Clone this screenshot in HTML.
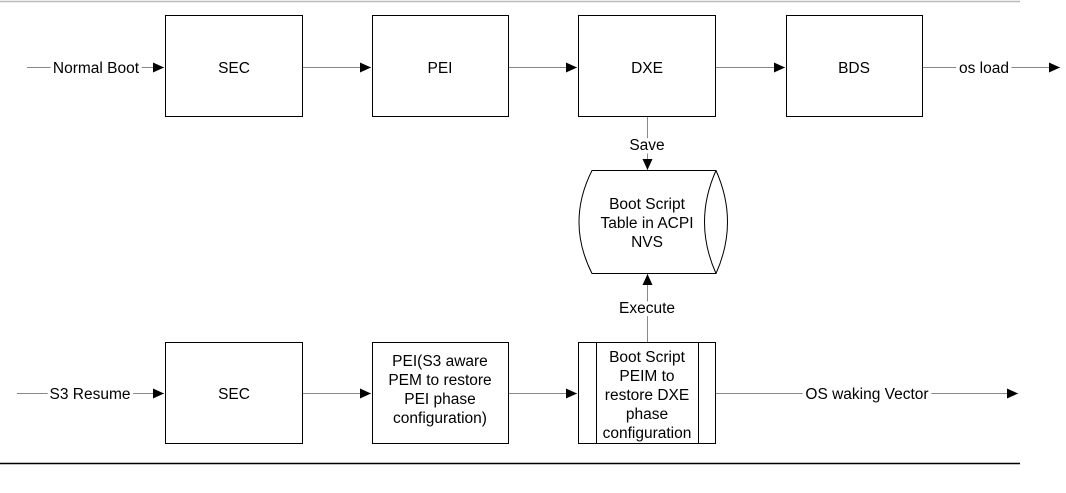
<!DOCTYPE html>
<html><head><meta charset="utf-8"><style>
html,body{margin:0;padding:0;background:#fff;}
svg{display:block;}
text{font-family:"Liberation Sans",Arial,sans-serif;font-size:15.5px;fill:#000;}
.l{paint-order:stroke;stroke:#fff;stroke-width:7px;stroke-linejoin:round;}
</style></head><body>
<svg width="1066" height="493" viewBox="0 0 1066 493" xmlns="http://www.w3.org/2000/svg">
<defs>
<marker id="a" markerWidth="12" markerHeight="10" refX="11" refY="5" orient="auto" markerUnits="userSpaceOnUse">
<path d="M0,0 L11,5 L0,10 Z" fill="#000"/></marker>
</defs>
<line x1="0" y1="1.5" x2="1020" y2="1.5" stroke="#bbb" stroke-width="1.5"/>
<line x1="0" y1="463.5" x2="1020" y2="463.5" stroke="#000" stroke-width="1.5"/>
<g stroke="#888" stroke-width="1" fill="none">
<line x1="27" y1="67.5" x2="164" y2="67.5" marker-end="url(#a)"/>
<line x1="302" y1="67.5" x2="371" y2="67.5" marker-end="url(#a)"/>
<line x1="508" y1="67.5" x2="577" y2="67.5" marker-end="url(#a)"/>
<line x1="716" y1="67.5" x2="785" y2="67.5" marker-end="url(#a)"/>
<line x1="922" y1="67.5" x2="1060" y2="67.5" marker-end="url(#a)"/>
<line x1="647.5" y1="116" x2="647.5" y2="170" marker-end="url(#a)"/>
<line x1="647.5" y1="342" x2="647.5" y2="274" marker-end="url(#a)"/>
<line x1="17" y1="393.5" x2="164" y2="393.5" marker-end="url(#a)"/>
<line x1="302" y1="393.5" x2="371" y2="393.5" marker-end="url(#a)"/>
<line x1="508" y1="393.5" x2="577" y2="393.5" marker-end="url(#a)"/>
<line x1="716" y1="393.5" x2="1018" y2="393.5" marker-end="url(#a)"/>
</g>
<g fill="#fff" stroke="#000" stroke-width="1">
<rect x="165.5" y="15.5" width="137" height="101"/>
<rect x="372.5" y="15.5" width="136" height="101"/>
<rect x="578.5" y="15.5" width="137" height="101"/>
<rect x="786.5" y="15.5" width="136" height="101"/>
<rect x="165.5" y="342.5" width="137" height="101"/>
<rect x="372.5" y="342.5" width="136" height="101"/>
<rect x="578.5" y="342.5" width="137" height="101"/>
<line x1="596.5" y1="342.5" x2="596.5" y2="443.5"/>
<line x1="698.5" y1="342.5" x2="698.5" y2="443.5"/>
<path d="M592,170.5 L716,170.5 Q739,222 716,273.5 L592,273.5 Q566,222 592,170.5 Z"/>
<path d="M716,170.5 Q693,222 716,273.5"/>
</g>
<g text-anchor="middle">
<text class="l" x="96" y="73">Normal Boot</text>
<text x="234" y="73">SEC</text>
<text x="440" y="73">PEI</text>
<text x="647" y="73">DXE</text>
<text x="854" y="73">BDS</text>
<text class="l" x="984" y="73">os load</text>
<text class="l" x="647" y="150">Save</text>
<text x="647" y="209">Boot Script</text>
<text x="647" y="228">Table in ACPI</text>
<text x="647" y="247">NVS</text>
<text class="l" x="647" y="313">Execute</text>
<text class="l" x="90" y="399">S3 Resume</text>
<text x="234" y="399">SEC</text>
<text x="440" y="366">PEI(S3 aware</text>
<text x="440" y="385">PEM to restore</text>
<text x="440" y="404">PEI phase</text>
<text x="440" y="423">configuration)</text>
<text x="647" y="362">Boot Script</text>
<text x="647" y="381">PEIM to</text>
<text x="647" y="400">restore DXE</text>
<text x="647" y="419">phase</text>
<text x="647" y="438">configuration</text>
<text class="l" x="867" y="399">OS waking Vector</text>
</g>
</svg>
</body></html>
